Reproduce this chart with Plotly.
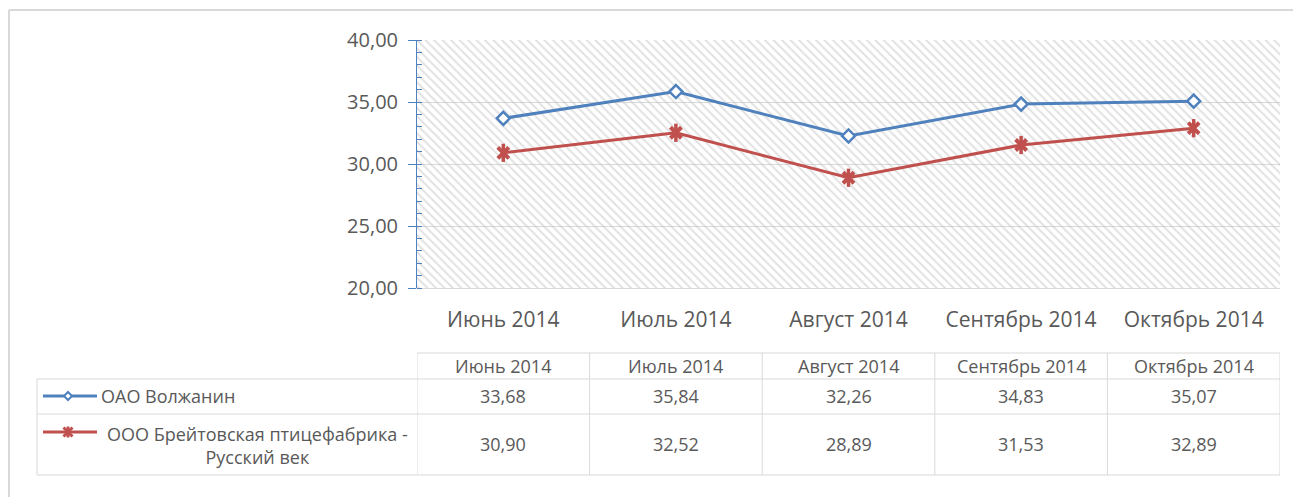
import plotly.graph_objects as go

# ---- data ----
months = ["Июнь 2014", "Июль 2014", "Август 2014", "Сентябрь 2014", "Октябрь 2014"]
series_names = ["ОАО Волжанин", "ООО Брейтовская птицефабрика -<br>Русский век"]
volzhanin = [33.68, 35.84, 32.26, 34.83, 35.07]
breitovo = [30.90, 32.52, 28.89, 31.53, 32.89]

BLUE = "#4F81BD"
RED = "#C0504D"
TXT = "#595959"
GRID = "#D9D9D9"
FONT = "Open Sans"

W, H = 1301, 497
OFF = 8  # page body margin compensation
def px(x):
    return (x - OFF) / W
def py(y):
    return 1 - (y - OFF) / H

idx = list(range(len(months)))
fig = go.Figure()

# hatched plot-area background
fig.add_trace(go.Scatter(
    x=[-0.5, 4.5, 4.5, -0.5, -0.5], y=[20, 20, 40, 40, 20],
    mode="lines", line=dict(width=0), fill="toself",
    fillcolor="rgba(0,0,0,0)",
    fillpattern=dict(shape="\\", size=6, solidity=0.33, fgcolor="#c4c4c4",
                     fillmode="overlay"),
    hoverinfo="skip", showlegend=False))

fig.add_trace(go.Scatter(
    x=idx, y=volzhanin, mode="lines+markers", name=series_names[0],
    line=dict(color=BLUE, width=3),
    marker=dict(symbol="diamond", size=10, color="white",
                line=dict(color=BLUE, width=2.5)),
    showlegend=False))
fig.add_trace(go.Scatter(
    x=idx, y=breitovo, mode="lines+markers", name=series_names[1],
    line=dict(color=RED, width=3),
    marker=dict(symbol="x-thin-open", size=11, color=RED,
                line=dict(color=RED, width=4)),
    showlegend=False))
fig.add_trace(go.Scatter(
    x=idx, y=breitovo, mode="markers",
    marker=dict(symbol="line-ns-open", size=13, color=RED,
                line=dict(color=RED, width=3.5)),
    hoverinfo="skip", showlegend=False))

# plot area pixel geometry
PL, PR, PT, PB = 417, 1280, 40, 288

fig.update_layout(
    template="none",
    width=W, height=H,
    margin=dict(l=0, r=0, t=0, b=0, pad=0, autoexpand=False),
    paper_bgcolor="white", plot_bgcolor="white",
    separators=", ",
    showlegend=False,
    font=dict(family=FONT, color=TXT),
    xaxis=dict(
        domain=[px(PL), px(PR)], range=[-0.5, 4.5], automargin=False,
        tickmode="array", tickvals=idx, ticktext=months,
        showgrid=False, zeroline=False,
        showline=True, linecolor=GRID, linewidth=1,
        ticks="outside", ticklen=13, tickcolor="rgba(0,0,0,0)",
        tickfont=dict(size=21, color=TXT, family=FONT),
    ),
    yaxis=dict(
        domain=[py(PB), py(PT)], range=[20, 40], automargin=False,
        tick0=20, dtick=5, tickformat=".2f",
        showgrid=True, gridcolor=GRID, gridwidth=1,
        zeroline=False,
        showline=True, linecolor=BLUE, linewidth=1,
        ticks="outside", ticklen=8, tickcolor=BLUE, tickwidth=1,
        ticklabelstandoff=6,
        minor=dict(dtick=1, ticks="inside", ticklen=5, tickcolor=BLUE, showgrid=False),
        tickfont=dict(size=20, color=TXT, family=FONT),
    ),
)

shapes = []
# outer frame (left & top)
shapes.append(dict(type="line", xref="paper", yref="paper", x0=px(9), x1=px(1400),
                   y0=py(10), y1=py(10), line=dict(color=GRID, width=2)))
shapes.append(dict(type="line", xref="paper", yref="paper", x0=px(9), x1=px(9),
                   y0=py(10), y1=py(600), line=dict(color=GRID, width=2)))

# data table grid
T_HEAD, T_R1, T_R2, T_BOT, T_LEFT = 353, 379, 414, 475, 37
shapes.append(dict(type="line", xref="x", yref="paper", x0=-0.5, x1=4.5,
                   y0=py(T_HEAD), y1=py(T_HEAD), line=dict(color=GRID, width=1)))
for yy in (T_R1, T_R2, T_BOT):
    shapes.append(dict(type="line", xref="paper", yref="paper", x0=px(T_LEFT), x1=px(PR),
                       y0=py(yy), y1=py(yy), line=dict(color=GRID, width=1)))
shapes.append(dict(type="line", xref="paper", yref="paper", x0=px(T_LEFT), x1=px(T_LEFT),
                   y0=py(T_R1), y1=py(T_BOT), line=dict(color=GRID, width=1)))
for i in range(len(months) + 1):
    shapes.append(dict(type="line", xref="x", yref="paper", x0=i - 0.5, x1=i - 0.5,
                       y0=py(T_HEAD), y1=py(T_BOT), line=dict(color=GRID, width=1)))

# legend keys in table
ky1, ky2, kx0, kx1, kxm = 396, 432, 43, 97, 68
shapes.append(dict(type="line", xref="paper", yref="paper", x0=px(kx0), x1=px(kx1),
                   y0=py(ky1), y1=py(ky1), line=dict(color=BLUE, width=3)))
d = 4
shapes.append(dict(type="path", xref="paper", yref="paper",
                   path=f"M {px(kxm-d)} {py(ky1)} L {px(kxm)} {py(ky1-d)} L {px(kxm+d)} {py(ky1)} L {px(kxm)} {py(ky1+d)} Z",
                   fillcolor="white", line=dict(color=BLUE, width=2)))
shapes.append(dict(type="line", xref="paper", yref="paper", x0=px(kx0), x1=px(kx1),
                   y0=py(ky2), y1=py(ky2), line=dict(color=RED, width=3)))
a = 4.5
for (dx0, dy0, dx1, dy1) in [(-a, -a, a, a), (-a, a, a, -a), (0, -a - 1, 0, a + 1)]:
    shapes.append(dict(type="line", xref="paper", yref="paper",
                       x0=px(kxm + dx0), x1=px(kxm + dx1), y0=py(ky2 + dy0), y1=py(ky2 + dy1),
                       line=dict(color=RED, width=3)))

annotations = []
TF = dict(family=FONT, size=18, color=TXT)
for i, m in enumerate(months):
    annotations.append(dict(x=i, xref="x", y=py(366), yref="paper", text=m,
                            showarrow=False, font=TF, xanchor="center", yanchor="middle"))
    annotations.append(dict(x=i, xref="x", y=py(396), yref="paper",
                            text=f"{volzhanin[i]:.2f}".replace(".", ","),
                            showarrow=False, font=TF, xanchor="center", yanchor="middle"))
    annotations.append(dict(x=i, xref="x", y=py(444), yref="paper",
                            text=f"{breitovo[i]:.2f}".replace(".", ","),
                            showarrow=False, font=TF, xanchor="center", yanchor="middle"))
annotations.append(dict(x=px(99), xref="paper", y=py(396), yref="paper", text=series_names[0],
                        showarrow=False, font=TF, xanchor="left", yanchor="middle"))
annotations.append(dict(x=px(257), xref="paper", y=py(445), yref="paper", text=series_names[1],
                        showarrow=False, font=TF, xanchor="center", yanchor="middle", align="center"))

fig.update_layout(shapes=shapes, annotations=annotations)
fig.write_html("out.html")
